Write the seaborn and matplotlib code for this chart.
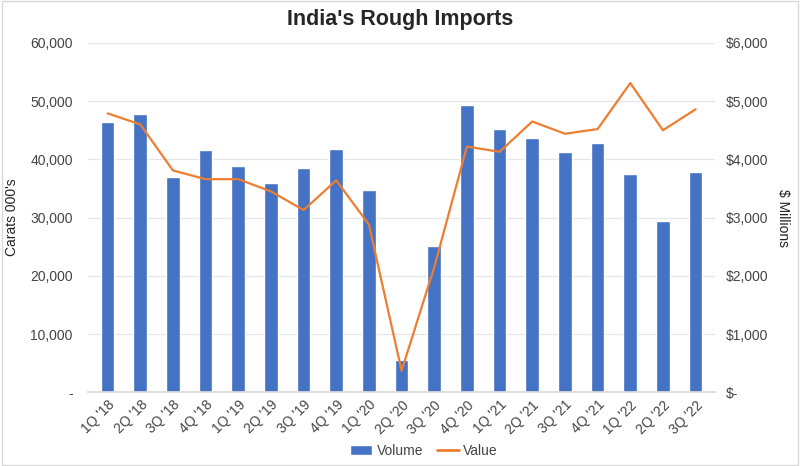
import numpy as np
import pandas as pd
import matplotlib
matplotlib.use("Agg")
import matplotlib.pyplot as plt
import seaborn as sns
from matplotlib.ticker import FuncFormatter
from matplotlib.patches import Patch
from matplotlib.lines import Line2D

quarters = ["1Q '18", "2Q '18", "3Q '18", "4Q '18", "1Q '19", "2Q '19", "3Q '19", "4Q '19",
            "1Q '20", "2Q '20", "3Q '20", "4Q '20", "1Q '21", "2Q '21", "3Q '21", "4Q '21",
            "1Q '22", "2Q '22", "3Q '22"]
volume = [46400, 47800, 37000, 41600, 38800, 35900, 38500, 41700,
          34700, 5500, 25200, 49400, 45200, 43700, 41300, 42800,
          37500, 29400, 37800]
value = [4790, 4600, 3810, 3660, 3660, 3450, 3130, 3640,
         2880, 370, 2150, 4220, 4130, 4650, 4440, 4520,
         5310, 4500, 4860]

bar_color = "#4472C4"
line_color = "#ED7D31"

sns.set_theme(style="white")
plt.rcParams['font.family'] = ['Liberation Sans', 'DejaVu Sans']

df = pd.DataFrame({"Quarter": quarters, "Volume": volume, "Value": value,
                   "pos": np.arange(len(quarters))})

fig = plt.figure(figsize=(8, 4.66), dpi=100)
ax = fig.add_axes([0.11, 0.158, 0.784, 0.75])
sns.barplot(data=df, x="Quarter", y="Volume", color=bar_color, width=0.42,
            saturation=1, ax=ax, zorder=2)
ax.set_ylim(0, 60000)
ax.set_yticks(np.arange(0, 60001, 10000))
ax.yaxis.set_major_formatter(FuncFormatter(lambda v, p: "-" if v == 0 else f"{int(v):,}"))
ax.grid(axis="y", color="#E6E6E6", linewidth=0.9, zorder=0)
ax.set_axisbelow(True)
ax.set_xlabel("")
ax.set_ylabel("Carats 000's", fontsize=10, color="#222222")
ax.yaxis.set_label_coords(-0.11, 0.5)
ax.tick_params(axis="y", labelsize=10, colors="#444444", length=0, pad=11)
ax.tick_params(axis="x", labelsize=10, colors="#444444", length=0, pad=4)
plt.setp(ax.get_xticklabels(), rotation=45, ha="right", rotation_mode="anchor")
for s in ["top", "right", "left"]:
    ax.spines[s].set_visible(False)
ax.spines["bottom"].set_color("#D9D9D9")
ax.set_xlim(-0.6, len(quarters) - 0.4)

ax2 = ax.twinx()
sns.lineplot(data=df, x="pos", y="Value", color=line_color, linewidth=1.6, ax=ax2)
ax2.set_ylim(0, 6000)
ax2.set_yticks(np.arange(0, 6001, 1000))
ax2.yaxis.set_major_formatter(FuncFormatter(lambda v, p: "$-" if v == 0 else f"${int(v):,}"))
ax2.set_ylabel("$ Millions", fontsize=10, color="#222222", rotation=270, va="center")
ax2.yaxis.set_label_coords(1.108, 0.5)
ax2.tick_params(axis="y", labelsize=10, colors="#444444", length=0, pad=8)
ax2.set_xlabel("")
for s in ["top", "right", "left", "bottom"]:
    ax2.spines[s].set_visible(False)
ax2.set_xlim(-0.6, len(quarters) - 0.4)

fig.suptitle("India's Rough Imports", fontsize=15.5, fontweight="bold", y=0.98, x=0.5)

handles = [Patch(facecolor=bar_color, label="Volume"),
           Line2D([0], [0], color=line_color, linewidth=2, label="Value")]
fig.legend(handles=handles, loc="lower center", ncol=2, frameon=False, fontsize=10,
           bbox_to_anchor=(0.53, -0.01), handlelength=1.6, handletextpad=0.3, columnspacing=1.0,
           labelcolor="#444444")

fig.patches.append(plt.Rectangle((0.002, 0.002), 0.996, 0.996, transform=fig.transFigure,
                                 fill=False, edgecolor="#D9D9D9", linewidth=1))
fig.savefig("out.png", dpi=100)
